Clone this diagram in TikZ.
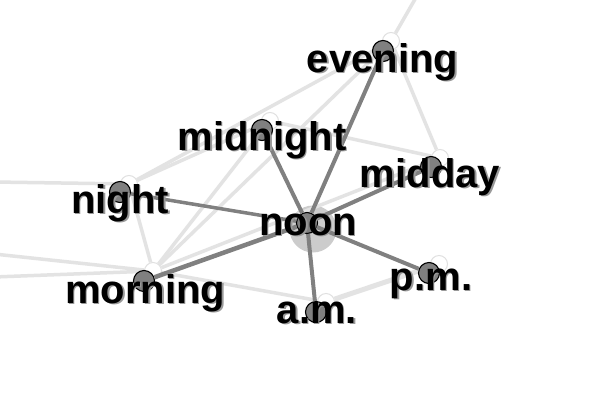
\documentclass[tikz,border=0pt]{standalone}
\usepackage{fontspec}
\setmainfont{Liberation Sans}
\begin{document}
\begin{tikzpicture}[x=1pt,y=-1pt,
  lbl/.style={anchor=base,inner sep=0pt,font=\fontsize{40}{44}\selectfont\bfseries,text=black},
  shd/.style={lbl,text=black!40},
  dot/.style={circle,draw=black,line width=1.1pt,fill=black!50,minimum size=21pt,inner sep=0pt},
  ghost/.style={circle,draw=black!12,line width=1pt,fill=white,minimum size=17pt,inner sep=0pt},
  faint/.style={draw=black!11,line width=3.5pt},
  strong/.style={draw=black!50,line width=4pt},
]
\fill[white] (0,0) rectangle (601,407);
\clip (0,0) rectangle (601,407);
% halo of the focus word
\node[circle,fill=black!20,minimum size=47pt,inner sep=0pt] (halo) at (313,229) {};
% earlier positions
\node[ghost] (gev) at (391,41) {};
\node[ghost] (gmn) at (270,121) {};
\node[ghost] (gmd) at (440,158) {};
\node[ghost] (gni) at (129,184) {};
\node[ghost] (gmo) at (153,271) {};
\node[ghost] (gam) at (326,302) {};
\node[ghost] (gpm) at (439,264) {};
\coordinate (top) at (418,-6);
\coordinate (l1) at (-6,182);
\coordinate (l2) at (-6,254);
\coordinate (l3) at (-6,277);
% faint links
\draw[faint] (top) -- (gev);
\draw[faint] (gev) -- (gmd);
\draw[faint] (gev) -- (gni);
\draw[faint] (gev) -- (gmo);
\draw[faint] (gmn) -- (gni);
\draw[faint] (gmn) -- (gmo);
\draw[faint] (gmn) -- (gmd);
\draw[faint] (gni) -- (gmo);
\draw[faint] (l1) -- (gni);
\draw[faint] (l2) -- (gmo);
\draw[faint] (l3) -- (gmo);
\draw[faint] (gmo) -- (gam);
\draw[faint,line width=5pt] (gam) -- (gpm);
\draw[faint] (gmo) -- (gmd);
% current positions
\node[dot] (ev) at (383,51) {};
\node[dot] (mn) at (262,130) {};
\node[dot] (md) at (431,167) {};
\node[dot] (ni) at (120,192) {};
\node[dot] (mo) at (144,281) {};
\node[dot] (nn) at (307,223) {};
\node[dot] (am) at (316,312) {};
\node[dot] (pm) at (429,273) {};
% strong links
\draw[strong] (nn) -- (ev);
\draw[strong] (nn) -- (mn);
\draw[strong,line width=3.5pt] (nn) -- (ni);
\draw[strong] (nn) -- (md);
\draw[strong,line width=4.5pt] (nn) -- (mo);
\draw[strong] (nn) -- (am);
\draw[strong] (nn) -- (pm);
% labels with shadow
\node[shd] at (384,73.5) {evening};
\node[lbl] (tev) at (382.5,72) {evening};
\node[shd] at (263.5,151.5) {midnight};
\node[lbl] (tmn) at (262,150) {midnight};
\node[shd] at (121.5,214.5) {night};
\node[lbl] (tni) at (120,213) {night};
\node[shd] at (309.5,236.5) {noon};
\node[lbl] (tnn) at (308,235) {noon};
\node[shd] at (431.5,188.5) {midday};
\node[lbl] (tmd) at (430,187) {midday};
\node[shd] at (146.5,304.5) {morning};
\node[lbl] (tmo) at (145,303) {morning};
\node[shd] at (432.5,291.5) {p.m.};
\node[lbl] (tpm) at (431,290) {p.m.};
\node[shd] at (318.5,324.5) {a.m.};
\node[lbl] (tam) at (317,323) {a.m.};
\end{tikzpicture}
\end{document}
